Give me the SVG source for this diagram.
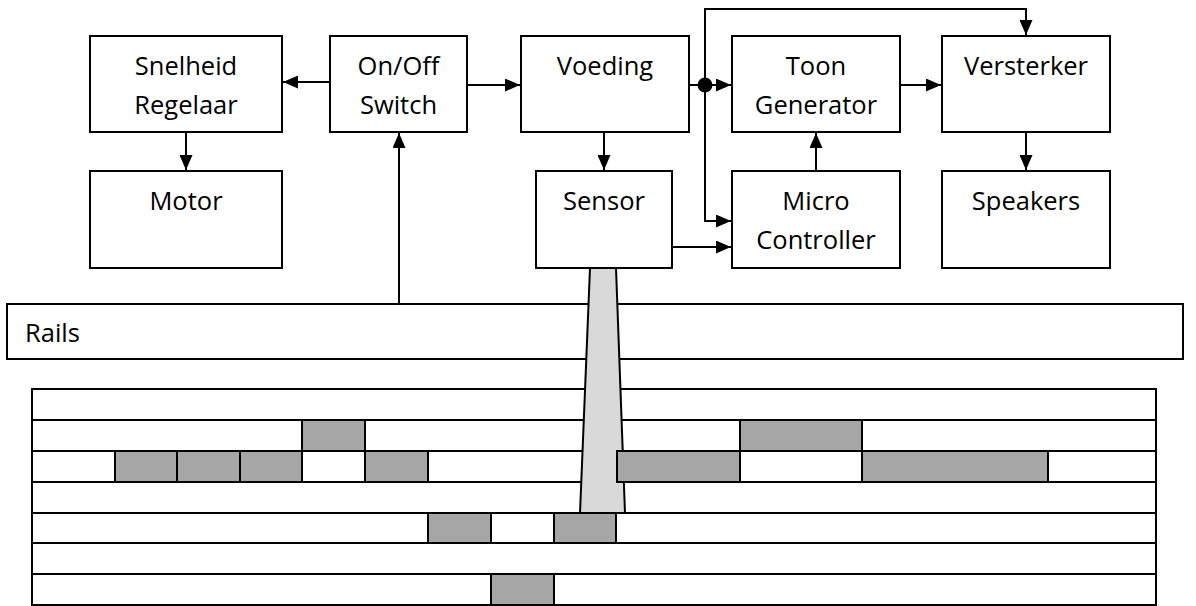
<svg xmlns="http://www.w3.org/2000/svg" width="1196" height="606" viewBox="0 0 1196 606">
  <style>
    .box { fill: #ffffff; stroke: #000000; stroke-width: 2; }
    .lbl { font-family: "Open Sans", "Noto Sans", "Liberation Sans", sans-serif; font-size: 25.5px; fill: #000000; text-anchor: middle; }
    .wire { fill: none; stroke: #000000; stroke-width: 2; }
    .cell { fill: #a6a6a6; stroke: #000000; stroke-width: 2; }
    .row { fill: #ffffff; stroke: #000000; stroke-width: 2; }
  </style>
  <defs>
    <marker id="arrow" viewBox="0 0 15 13" refX="15" refY="6.5" markerWidth="15" markerHeight="13" orient="auto" markerUnits="userSpaceOnUse">
      <path d="M0,0 L15,6.5 L0,13 Z" fill="#000000"/>
    </marker>
  </defs>

  <!-- block nodes -->
  <g id="snelheid">
    <rect class="box" x="90" y="36" width="192" height="96"/>
    <text class="lbl" x="186" y="75">Snelheid</text>
    <text class="lbl" x="186" y="114">Regelaar</text>
  </g>
  <g id="motor">
    <rect class="box" x="90" y="171" width="192" height="97"/>
    <text class="lbl" x="186" y="210">Motor</text>
  </g>
  <g id="onoff">
    <rect class="box" x="330" y="36" width="137" height="96"/>
    <text class="lbl" x="398.5" y="75">On/Off</text>
    <text class="lbl" x="398.5" y="114">Switch</text>
  </g>
  <g id="voeding">
    <rect class="box" x="521" y="36" width="168" height="96"/>
    <text class="lbl" x="605" y="75">Voeding</text>
  </g>
  <g id="sensor">
    <rect class="box" x="536" y="171" width="136" height="97"/>
    <text class="lbl" x="604" y="210">Sensor</text>
  </g>
  <g id="toon">
    <rect class="box" x="732" y="36" width="168" height="96"/>
    <text class="lbl" x="816" y="75">Toon</text>
    <text class="lbl" x="816" y="114">Generator</text>
  </g>
  <g id="micro">
    <rect class="box" x="732" y="171" width="168" height="97"/>
    <text class="lbl" x="816" y="210">Micro</text>
    <text class="lbl" x="816" y="249">Controller</text>
  </g>
  <g id="versterker">
    <rect class="box" x="942" y="36" width="168" height="96"/>
    <text class="lbl" x="1026" y="75">Versterker</text>
  </g>
  <g id="speakers">
    <rect class="box" x="942" y="171" width="168" height="97"/>
    <text class="lbl" x="1026" y="210">Speakers</text>
  </g>
  <g id="rails">
    <rect class="box" x="7" y="304" width="1176" height="55"/>
    <text class="lbl" x="25" y="342" style="text-anchor:start">Rails</text>
  </g>

  <!-- connectors -->
  <g id="connectors">
    <path class="wire" d="M330,82 H283" marker-end="url(#arrow)"/>
    <path class="wire" d="M186,132 V170" marker-end="url(#arrow)"/>
    <path class="wire" d="M467,85 H520" marker-end="url(#arrow)"/>
    <path class="wire" d="M399,304 V133" marker-end="url(#arrow)"/>
    <path class="wire" d="M604,132 V170" marker-end="url(#arrow)"/>
    <path class="wire" d="M689,85 H731" marker-end="url(#arrow)"/>
    <path class="wire" d="M705,85 V9 H1026 V35" marker-end="url(#arrow)"/>
    <path class="wire" d="M705,85 V221 H731" marker-end="url(#arrow)"/>
    <path class="wire" d="M672,247 H731" marker-end="url(#arrow)"/>
    <path class="wire" d="M816,171 V133" marker-end="url(#arrow)"/>
    <path class="wire" d="M900,85 H941" marker-end="url(#arrow)"/>
    <path class="wire" d="M1026,132 V170" marker-end="url(#arrow)"/>
    <circle cx="705" cy="85" r="7.5" fill="#000000"/>
  </g>

  <!-- track grid -->
  <g id="grid">
    <rect class="row" x="32" y="389" width="1124" height="31"/>
    <rect class="row" x="32" y="420" width="1124" height="31"/>
    <rect class="row" x="32" y="451" width="1124" height="31"/>
    <rect class="row" x="32" y="482" width="1124" height="31"/>
    <rect class="row" x="32" y="513" width="1124" height="30"/>
    <rect class="row" x="32" y="543" width="1124" height="31"/>
    <rect class="row" x="32" y="574" width="1124" height="31"/>
  </g>

  <!-- sensor beam -->
  <g id="beam">
    <polygon points="590,268 616,268 625,513 580,513" fill="#d9d9d9" stroke="#000000" stroke-width="2" stroke-linejoin="miter"/>
  </g>

  <!-- occupied cells -->
  <g id="cells">
    <rect class="cell" x="302" y="420" width="63" height="31"/>
    <rect class="cell" x="740" y="420" width="122" height="31"/>
    <rect class="cell" x="115" y="451" width="62" height="31"/>
    <rect class="cell" x="177" y="451" width="63" height="31"/>
    <rect class="cell" x="240" y="451" width="62" height="31"/>
    <rect class="cell" x="365" y="451" width="63" height="31"/>
    <rect class="cell" x="617" y="451" width="123" height="31"/>
    <rect class="cell" x="862" y="451" width="186" height="31"/>
    <rect class="cell" x="428" y="513" width="63" height="30"/>
    <rect class="cell" x="554" y="513" width="62" height="30"/>
    <rect class="cell" x="491" y="574" width="63" height="31"/>
  </g>
</svg>
